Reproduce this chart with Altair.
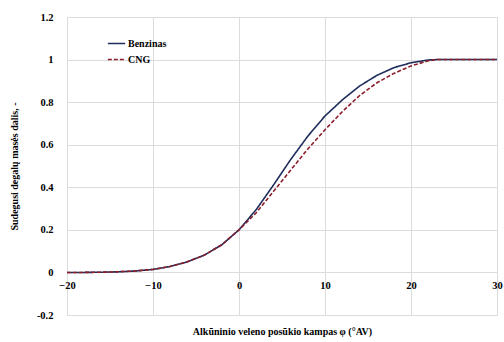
import altair as alt
import pandas as pd

angles = [-20, -18, -16, -14, -12, -10, -8, -6, -4, -2, 0, 2, 4, 6, 8, 10, 12, 14, 16, 18, 20, 22, 23, 24, 26, 28, 30]
benzinas = [0.0, 0.0, 0.001, 0.003, 0.007, 0.014, 0.028, 0.05, 0.082, 0.13, 0.2, 0.295, 0.41, 0.53, 0.64, 0.735, 0.81, 0.875, 0.925, 0.962, 0.985, 0.998, 1.0, 1.0, 1.0, 1.0, 1.0]
cng = [0.0, 0.0, 0.001, 0.003, 0.007, 0.014, 0.028, 0.05, 0.082, 0.13, 0.2, 0.28, 0.38, 0.48, 0.58, 0.67, 0.755, 0.83, 0.89, 0.935, 0.97, 0.994, 1.0, 1.0, 1.0, 1.0, 1.0]
series_names = ["Benzinas", "CNG"]
colors = ["#1f2d5c", "#8b1e2a"]

rows = []
for a, b, c in zip(angles, benzinas, cng):
    rows.append({"angle": a, "value": b, "series": series_names[0]})
    rows.append({"angle": a, "value": c, "series": series_names[1]})
df = pd.DataFrame(rows)

FONT = "Liberation Serif"

chart = alt.Chart(df).mark_line(strokeWidth=1.6).encode(
    x=alt.X("angle:Q",
            scale=alt.Scale(domain=[-20, 30], nice=False),
            axis=alt.Axis(values=[-20, -10, 0, 10, 20, 30], offset=-43, domain=False, ticks=False,
                          labelPadding=8, titlePadding=36, labelFlush=False),
            title="Alkūninio veleno posūkio kampas φ (°AV)"),
    y=alt.Y("value:Q",
            scale=alt.Scale(domain=[-0.2, 1.2], nice=False),
            axis=alt.Axis(values=[-0.2, 0, 0.2, 0.4, 0.6, 0.8, 1.0, 1.2], domain=False, ticks=False,
                          labelPadding=14,
                          labelExpr="'' + round(datum.value*10)/10",
                          titlePadding=17),
            title="Sudegusi degalų masės dalis, -"),
    color=alt.Color("series:N", scale=alt.Scale(domain=series_names, range=colors),
                    title=None,
                    legend=alt.Legend(orient="none", legendX=40, legendY=17, symbolType="stroke",
                                      symbolSize=300, symbolStrokeWidth=1.6, rowPadding=1,
                                      labelFont=FONT, labelFontSize=10, labelFontWeight="bold",
                                      labelColor="#000000", labelOffset=2)),
    strokeDash=alt.StrokeDash("series:N", scale=alt.Scale(domain=series_names, range=[[1, 0], [4, 2]]),
                              title=None),
).properties(
    width=430, height=298,
    autosize=alt.AutoSizeParams(type="none"),
    padding={"left": 67, "top": 17, "right": 7, "bottom": 27},
    background="#ffffff",
).configure_view(
    stroke="#d9d9d9", strokeWidth=1
).configure_axis(
    grid=True, gridColor="#dcdcdc", gridWidth=1,
    labelFont=FONT, labelFontSize=10.5, labelFontWeight="bold", labelColor="#000000",
    titleFont=FONT, titleFontSize=10, titleFontWeight="bold", titleColor="#000000",
)

chart.save("out.html", embed_options={"renderer": "svg", "actions": False})
